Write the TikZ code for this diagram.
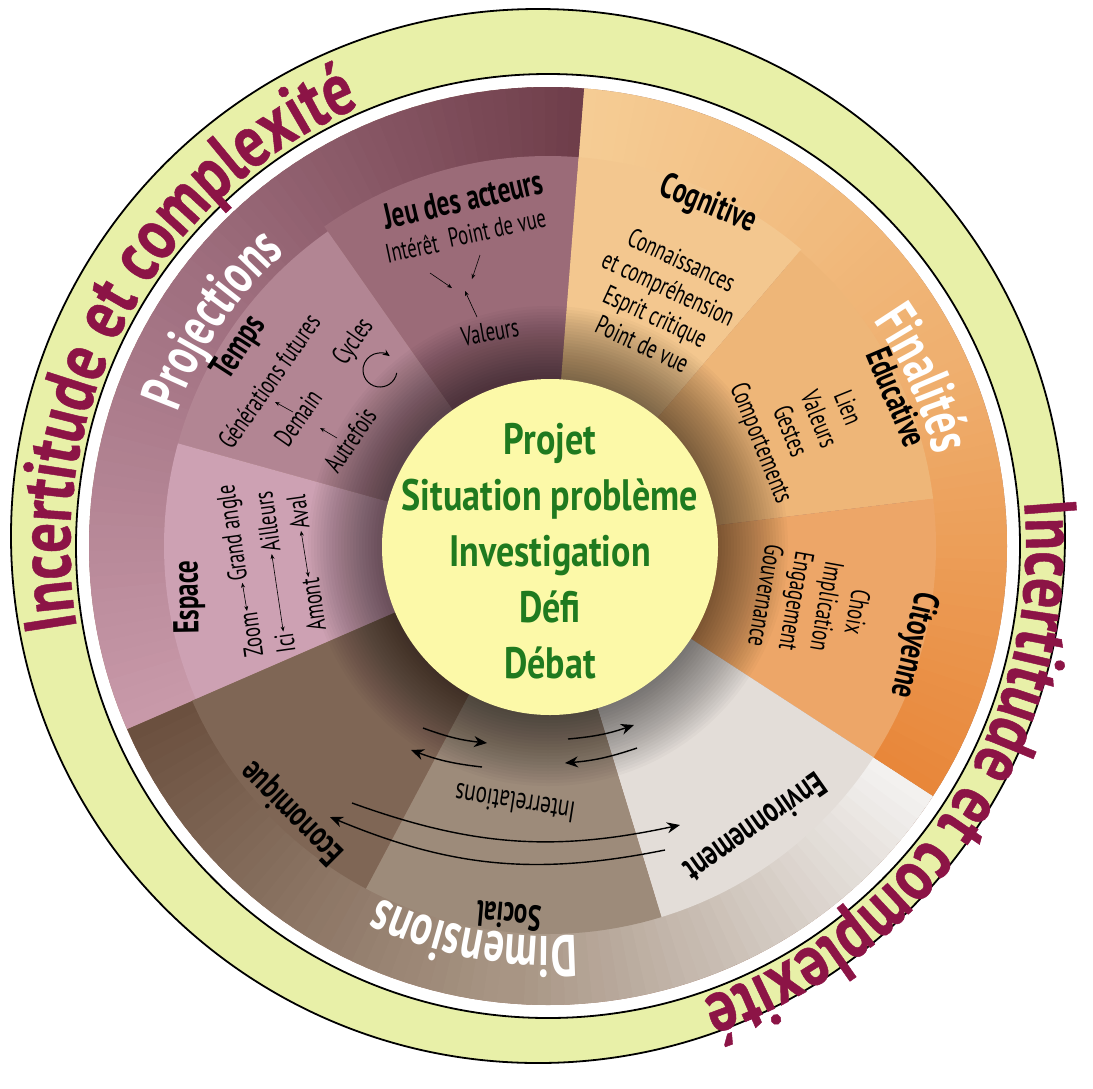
\documentclass[tikz,border=0pt]{standalone}
\usepackage{fontspec}
\setmainfont{PT Sans}
\newfontfamily\cf{PT Sans}[FakeStretch=0.69]
\newfontfamily\tf{PT Sans}[FakeStretch=0.70]
\newfontfamily\gf{PT Sans}[FakeStretch=0.82]
\newfontfamily\rf{PT Sans}[FakeStretch=0.80,FakeBold=0.6]
\usetikzlibrary{decorations.text,arrows.meta}
\definecolor{ringbg}{HTML}{E8F0A8}
\definecolor{ringtxt}{HTML}{8C1446}
\definecolor{projA}{HTML}{6F3E4A}
\definecolor{projM}{HTML}{A07080}
\definecolor{projB}{HTML}{C899A9}
\definecolor{jeuC}{HTML}{9B6B78}
\definecolor{tempsC}{HTML}{B28593}
\definecolor{espC}{HTML}{CDA1B3}
\definecolor{finA}{HTML}{F5CC94}
\definecolor{finM}{HTML}{EFB070}
\definecolor{finB}{HTML}{E8873A}
\definecolor{cogC}{HTML}{F3C78F}
\definecolor{eduC}{HTML}{EEB678}
\definecolor{citC}{HTML}{EDA668}
\definecolor{dimA}{HTML}{F3F1EF}
\definecolor{dimM}{HTML}{A89584}
\definecolor{dimB}{HTML}{6B503F}
\definecolor{envC}{HTML}{E3DDD8}
\definecolor{socC}{HTML}{9D8B7A}
\definecolor{ecoC}{HTML}{7F6655}
\definecolor{centerC}{HTML}{FCF9A8}
\definecolor{greenT}{HTML}{1F7A1F}
\definecolor{underC}{HTML}{A88070}
\newcommand\wedgefill[5]{\fill[#5] (#1:#3pt) arc[start angle=#1, end angle=#2, radius=#3pt] -- (#2:#4pt) arc[start angle=#2, end angle=#1, radius=#4pt] -- cycle;}
% three-stop gradient band from angle #1 to #2 (#2>#1), radii #3-#4, colours #5 -> #6 -> #7
\newcommand\gradthree[7]{%
  \foreach \gi in {0,...,71}{%
    \pgfmathsetmacro\myA{#1+(#2-#1)*\gi/72}%
    \pgfmathsetmacro\myB{min(#2,#1+(#2-#1)*(\gi+1.5)/72)}%
    \ifnum\gi<36
      \pgfmathtruncatemacro\myP{100-100*\gi/35}%
      \def\myC{#5!\myP!#6}%
    \else
      \pgfmathtruncatemacro\myP{100-100*(\gi-36)/35}%
      \def\myC{#6!\myP!#7}%
    \fi
    \wedgefill{\myA}{\myB}{#3}{#4}{\myC}%
  }}
\newcommand\ringfmt{\rf\bfseries\fontsize{74}{74}\selectfont\color{ringtxt}}
\newcommand\bandfmt{\tf\bfseries\fontsize{58}{58}\selectfont\color{white}}
\begin{document}
\begin{tikzpicture}[x=1pt,y=1pt,
  lab/.style={font=\cf\fontsize{27}{31}\selectfont, align=center, inner sep=0pt},
  ttl/.style={font=\tf\bfseries\fontsize{36}{36}\selectfont, inner sep=0pt},
  sa/.style={-{Stealth[length=5pt,width=4pt]}, line width=0.6pt},
  sda/.style={{Stealth[length=5pt,width=4pt]}-{Stealth[length=5pt,width=4pt]}, line width=0.6pt, shorten >=2pt, shorten <=2pt},
  ia/.style={-{Stealth[length=13pt,width=11pt]}, line width=1.4pt}]
\useasboundingbox (0,0) rectangle (1093,-1088);
\fill[white] (0,0) rectangle (1093,-1088);
% outer ring
\filldraw[fill=ringbg, draw=black, line width=1.8pt] (538,-536) circle[radius=527pt];
\begin{scope}[shift={(548,-546)}]
  \filldraw[fill=white, draw=black, line width=1.8pt] (0,0) circle[radius=472pt];
  % underlay against seams
  \fill[underC] (0,0) circle[radius=459pt];
  % outer bands
  \gradthree{-156.5}{-33}{370}{459}{dimB}{dimM}{dimA}
  \gradthree{-33}{85.5}{370}{459}{finB}{finM}{finA}
  \gradthree{85.5}{203.5}{370}{459}{projA}{projM}{projB}
  % inner sectors
  \wedgefill{85.5}{125}{160}{390}{jeuC}
  \wedgefill{125}{164.5}{160}{384}{tempsC}
  \wedgefill{164.5}{203.5}{160}{384}{espC}
  \wedgefill{49.5}{85.5}{160}{390}{cogC}
  \wedgefill{7}{49.5}{160}{388}{eduC}
  \wedgefill{-33}{7}{160}{388}{citC}
  \wedgefill{-73}{-33}{160}{388}{envC}
  \wedgefill{-118}{-73}{160}{388}{socC}
  \wedgefill{-156.5}{-118}{160}{388}{ecoC}
  % shadow round the centre
  \foreach \gi in {1,...,24}{%
    \pgfmathsetmacro\myR{168+\gi*3}%
    \fill[black, opacity=0.024] (0,0) circle[radius=\myR pt];}
  % ring texts
  \path[decorate, decoration={text along path, text align=center,
    text={|\ringfmt|Incertitude et complexité}}]
    (201.5:478pt) arc[start angle=201.5, end angle=101.5, radius=478pt];
  \path[decorate, decoration={text along path, text align=center,
    text={|\ringfmt|Incertitude et complexité}}]
    (17:478pt) arc[start angle=17, end angle=-83, radius=478pt];
  % band titles
  \path[decorate, decoration={text along path, text align=center,
    text={|\bandfmt|Projections}}]
    (186:394pt) arc[start angle=186, end angle=106, radius=394pt];
  \path[decorate, decoration={text along path, text align=center,
    text={|\bandfmt|Finalités}}]
    (64:396pt) arc[start angle=64, end angle=-16, radius=396pt];
  \path[decorate, decoration={text along path, text align=center,
    text={|\bandfmt|Dimensions}}]
    (-60.7:390pt) arc[start angle=-60.7, end angle=-140.7, radius=390pt];
\end{scope}
% centre
\fill[centerC] (550,-547) circle[radius=168pt];
\node[font=\gf\bfseries\fontsize{44}{56}\selectfont, text=greenT, align=center, inner sep=0pt] (ctr) at (550,-551)
  {Projet\\Situation problème\\Investigation\\Défi\\Débat};
% Jeu des acteurs
\node[ttl, rotate=13] (jeu) at (463,-199) {Jeu des acteurs};
\node[lab, rotate=12] (inter) at (412,-248) {Intérêt};
\node[lab, rotate=12] (pdv) at (497,-228) {Point de vue};
\node[lab, rotate=10] (val) at (490,-332) {Valeurs};
\coordinate (j1s) at (430,-273); \coordinate (j1e) at (452,-288);
\coordinate (j2s) at (480,-255); \coordinate (j2e) at (472,-279);
\coordinate (j3s) at (477,-317); \coordinate (j3e) at (465,-291);
\draw[sa] (j1s) -- (j1e);
\draw[sa] (j2s) -- (j2e);
\draw[sa] (j3s) -- (j3e);
% Temps
\node[ttl, rotate=57] (temps) at (240,-348) {Temps};
\node[lab, rotate=55] (gen) at (269,-381) {Générations futures};
\node[lab, rotate=55] (dem) at (298,-418) {Demain};
\node[lab, rotate=56] (autr) at (350,-440) {Autrefois};
\node[lab, rotate=55] (cyc) at (354,-342) {Cycles};
\coordinate (t1s) at (293,-412); \coordinate (t1e) at (275,-402);
\coordinate (t2s) at (337,-438); \coordinate (t2e) at (320,-428);
\draw[sa] (t1s) -- (t1e);
\draw[sa] (t2s) -- (t2e);
\coordinate (cycc) at (380,-370);
\draw[-{Stealth[length=7pt,width=6pt]}, line width=1pt] ([shift={(-10:17pt)}]cycc) arc[start angle=-10, end angle=-305, radius=17pt];
% Espace
\node[ttl, rotate=91] (esp) at (189,-597) {Espace};
\node[lab, rotate=98] (zoom) at (251,-635) {Zoom};
\node[lab, rotate=98] (grand) at (234,-533) {Grand angle};
\node[lab, rotate=98] (ici) at (285,-643) {Ici};
\node[lab, rotate=98] (aill) at (267,-522) {Ailleurs};
\node[lab, rotate=98] (amont) at (313,-605) {Amont};
\node[lab, rotate=98] (aval) at (298,-512) {Aval};
\draw[sda] (zoom) -- (grand);
\draw[sda] (ici) -- (aill);
\draw[sda] (amont) -- (aval);
% Finalites
\node[ttl, rotate=-22] (cog) at (708,-205) {Cognitive};
\node[lab, rotate=-25] (cogt) at (662,-302) {Connaissances\\et compréhension\\Esprit critique\\Point de vue};
\node[ttl, rotate=-67] (edu) at (897,-397) {Educative};
\node[lab, rotate=-68] (edut) at (803,-426) {Lien\\Valeurs\\Gestes\\Comportements};
\node[ttl, rotate=-103] (cit) at (913,-645) {Citoyenne};
\node[lab, rotate=-100] (citt) at (812,-604) {Choix\\Implication\\Engagement\\Gouvernance};
% Dimensions
\node[ttl, rotate=-145] (env) at (756,-828) {Environnement};
\node[ttl, rotate=175] (soc) at (509,-916) {Social};
\node[lab, font=\tf\fontsize{30}{31}\selectfont, rotate=171] (intr) at (515,-803) {Interrelations};
\node[ttl, rotate=135] (eco) at (293,-812) {Economique};
\coordinate (a1s) at (423,-728); \coordinate (a1e) at (487,-743);
\coordinate (a2s) at (482,-767); \coordinate (a2e) at (411,-750);
\coordinate (a3s) at (568,-739); \coordinate (a3e) at (634,-725);
\coordinate (a4s) at (637,-748); \coordinate (a4e) at (565,-763);
\coordinate (a5s) at (352,-803); \coordinate (a5e) at (680,-825);
\coordinate (a6s) at (665,-850); \coordinate (a6e) at (330,-817);
\draw[ia] (a1s) to[bend right=7] (a1e);
\draw[ia] (a2s) to[bend left=7] (a2e);
\draw[ia] (a3s) to[bend right=7] (a3e);
\draw[ia] (a4s) to[bend left=7] (a4e);
\draw[ia] (a5s) to[bend right=16] (a5e);
\draw[ia] (a6s) to[bend left=17] (a6e);
\end{tikzpicture}
\end{document}
